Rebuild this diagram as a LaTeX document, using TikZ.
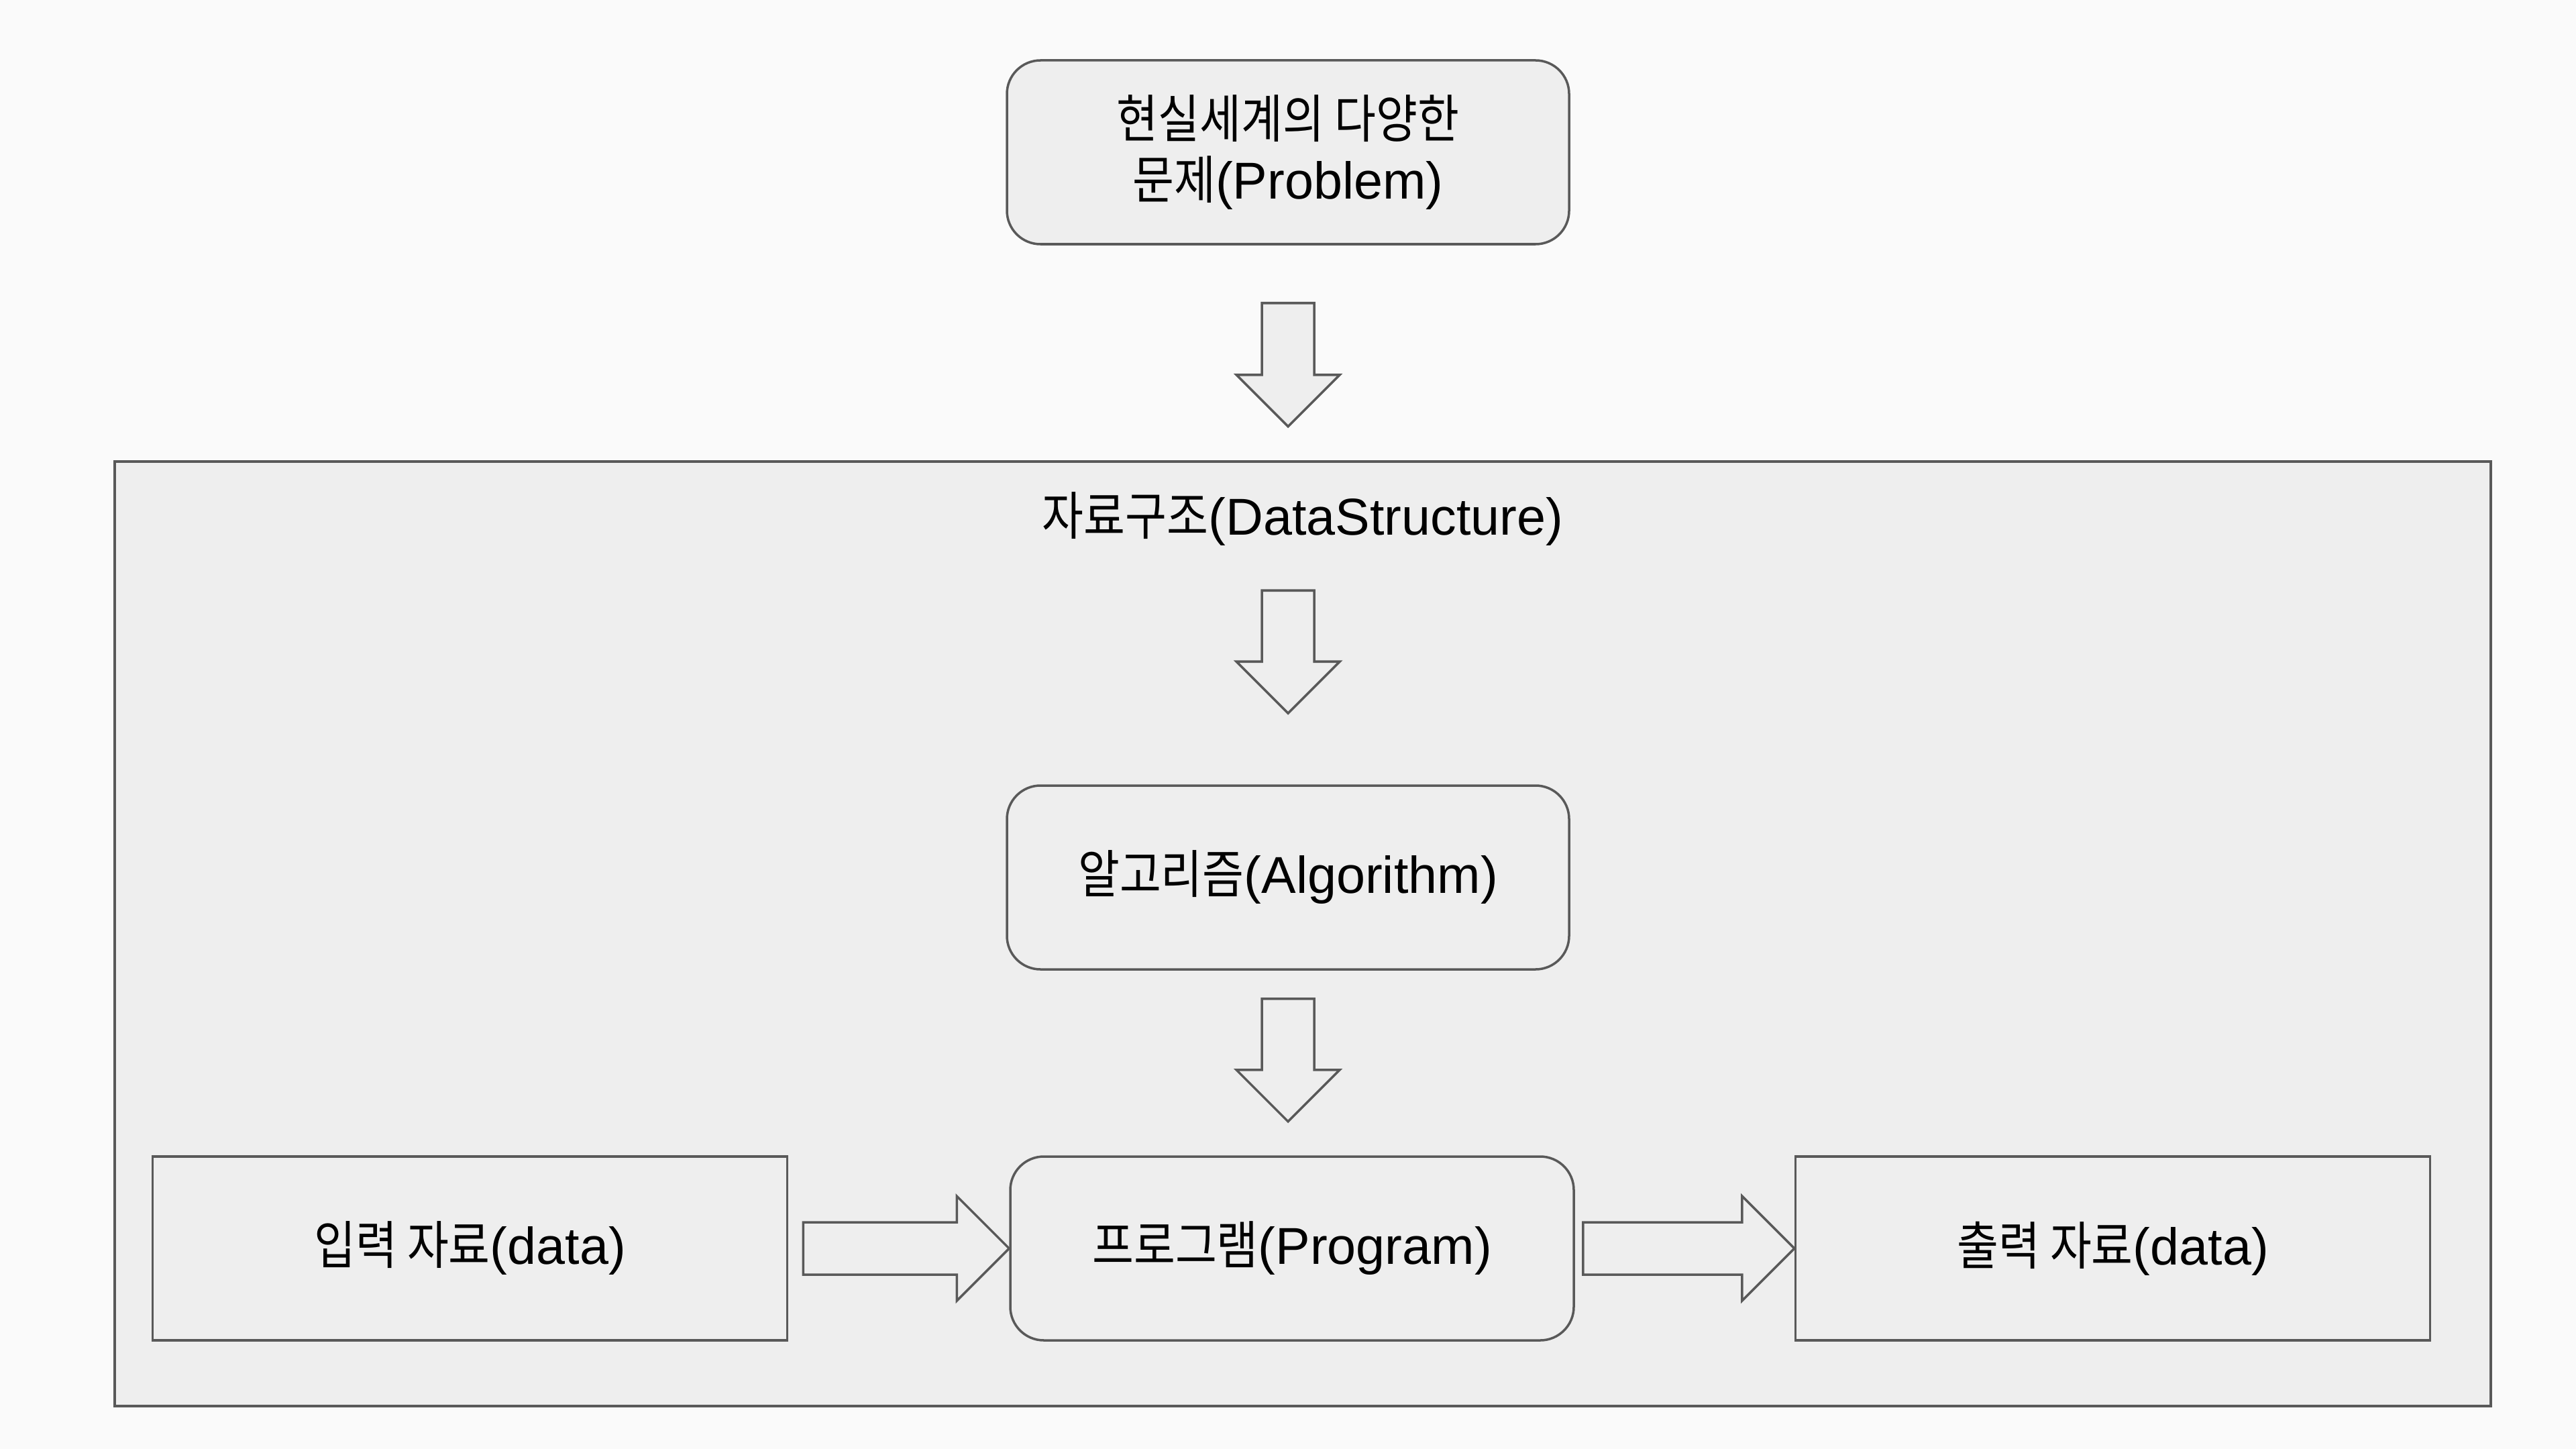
\documentclass[tikz,border=0pt]{standalone}
\usepackage{fontspec}
\setmainfont{Liberation Sans}
\newfontfamily\kr[FakeStretch=0.87]{Noto Sans CJK KR}
\usetikzlibrary{positioning,calc}
\definecolor{bordergray}{HTML}{595959}
\definecolor{boxfill}{HTML}{EEEEEE}
\definecolor{pagebg}{HTML}{FAFAFA}

\begin{document}
\begin{tikzpicture}[line width=1pt,
  every node/.style={font=\fontsize{22}{26}\selectfont},
  roundbox/.style={draw=bordergray, fill=boxfill, rounded corners=0.5cm, minimum width=8.38cm, minimum height=2.74cm, align=center},
  databox/.style={draw=bordergray, fill=boxfill, rectangle, minimum width=9.46cm, minimum height=2.74cm},
  blockarrow/.style={draw=bordergray, fill=boxfill, line join=miter}]
  \fill[pagebg] (0,0) rectangle (38.4,-21.6);
  \useasboundingbox (0,0) rectangle (38.4,-21.6);

  \node[draw=bordergray, fill=boxfill, rectangle, minimum width=35.42cm, minimum height=14.08cm, inner sep=0pt] (ds) at (19.42,-13.92) {};
  \node (dstitle) at ($(ds.north)+(0,-0.87)$) {{\kr 자료구조}(DataStructure)};

  \node[roundbox] (prob) at (19.2,-2.27) {{\kr 현실세계의 다양한}\\{\kr 문제}(Problem)};
  \node[roundbox] (algo) at (19.2,-13.08) {{\kr 알고리즘}(Algorithm)};
  \node[roundbox, minimum width=8.4cm] (prog) at (19.26,-18.61) {{\kr 프로그램}(Program)};
  \node[databox, left=3.29cm of prog] (input) {{\kr 입력 자료}(data)};
  \node[databox, right=3.27cm of prog] (output) {{\kr 출력 자료}(data)};

  % down arrows
  \coordinate (a1s) at ($(prob.south)+(0,-0.86)$);
  \coordinate (a1t) at ($(a1s)+(0,-1.84)$);
  \coordinate (a2s) at ($(algo.north)+(0,2.89)$);
  \coordinate (a2t) at ($(algo.north)+(0,1.06)$);
  \coordinate (a3s) at ($(algo.south)+(0,-0.42)$);
  \coordinate (a3t) at ($(a3s)+(0,-1.83)$);
  \foreach \s/\t in {a1s/a1t, a2s/a2t, a3s/a3t}
    \draw[blockarrow] ($(\s)+(-0.39,0)$) -- ($(\s)+(0.39,0)$) -- ($(\t)+(0.39,0.77)$) -- ($(\t)+(0.77,0.77)$)
      -- (\t) -- ($(\t)+(-0.77,0.77)$) -- ($(\t)+(-0.39,0.77)$) -- cycle;

  % right arrows
  \coordinate (r1s) at ($(input.east)+(0.22,0)$);
  \coordinate (r2s) at ($(prog.east)+(0.12,0)$);
  \foreach \s/\t in {r1s/prog.west, r2s/output.west}
    \draw[blockarrow] ($(\s)+(0,0.39)$) -- ($(\t)+(-0.78,0.39)$) -- ($(\t)+(-0.78,0.78)$) -- (\t)
      -- ($(\t)+(-0.78,-0.78)$) -- ($(\t)+(-0.78,-0.39)$) -- ($(\s)+(0,-0.39)$) -- cycle;
\end{tikzpicture}
\end{document}
